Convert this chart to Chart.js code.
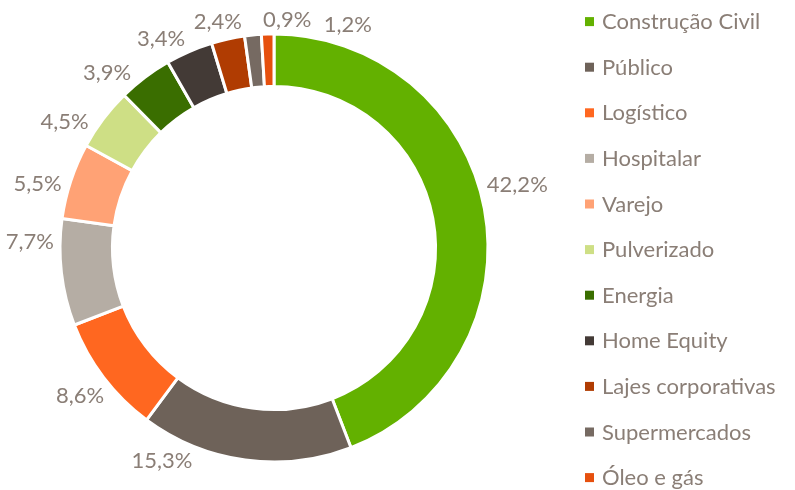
<!DOCTYPE html>
<html>
<head>
<meta charset="utf-8">
<script src="https://cdn.jsdelivr.net/npm/chart.js@4/dist/chart.umd.min.js"></script>
<style>
  html, body { margin: 0; padding: 0; background: #fff; }
  #wrap { width: 795px; height: 490px; position: relative; }
</style>
</head>
<body>
<div id="wrap"><canvas id="chart"></canvas></div>
<script>
const categories = ['Construção Civil', 'Público', 'Logístico', 'Hospitalar', 'Varejo', 'Pulverizado',
  'Energia', 'Home Equity', 'Lajes corporativas', 'Supermercados', 'Óleo e gás'];
const shares = [42.2, 15.3, 8.6, 7.7, 5.5, 4.5, 3.9, 3.4, 2.4, 1.2, 0.9];
const colors = ['#63B100', '#6E6259', '#FF6720', '#B5ADA4', '#FFA275', '#CEDF85',
  '#3A6E00', '#433A36', '#B03C02', '#766A62', '#E6500E'];

const textColor = '#8A7E76';
const fontFamily = 'Lato, "Noto Sans", sans-serif';

// label angle tweaks (degrees), mimicking where the original put them
const labelShift = [-4, 20, 0, 8, -3, -6, -6.5, -5, -1.5, 24, 5];

function fmt(v) {
  return v.toFixed(1).replace('.', ',') + '%';
}

const outsideLabels = {
  id: 'outsideLabels',
  afterDatasetsDraw(chart) {
    const ctx = chart.ctx;
    const meta = chart.getDatasetMeta(0);
    ctx.save();
    ctx.font = '22px ' + fontFamily;
    ctx.fillStyle = textColor;
    ctx.textAlign = 'center';
    ctx.textBaseline = 'middle';
    meta.data.forEach((arc, i) => {
      const p = arc.getProps(['x', 'y', 'startAngle', 'endAngle', 'outerRadius'], true);
      const a = (p.startAngle + p.endAngle) / 2 + labelShift[i] * Math.PI / 180;
      const txt = fmt(shares[i]);
      const w = ctx.measureText(txt).width;
      const h = 15;
      const cx = Math.cos(a), cy = Math.sin(a);
      const r = p.outerRadius + 6 + Math.abs(cx) * w / 2 + Math.abs(cy) * h / 2;
      ctx.fillText(txt, p.x + cx * r, p.y + cy * r);
    });
    ctx.restore();
  }
};

const sideLegend = {
  id: 'sideLegend',
  afterDraw(chart) {
    const ctx = chart.ctx;
    ctx.save();
    ctx.font = '22px ' + fontFamily;
    ctx.textAlign = 'left';
    ctx.textBaseline = 'alphabetic';
    categories.forEach((name, i) => {
      const y = 21.6 + i * 45.6;
      ctx.fillStyle = colors[i];
      ctx.fillRect(585, y - 4.5, 9, 9);
      ctx.fillStyle = textColor;
      ctx.fillText(name, 602, y + 7.5);
    });
    ctx.restore();
  }
};

const ctx = document.getElementById('chart').getContext('2d');
const chart = new Chart(ctx, {
  type: 'doughnut',
  data: {
    labels: categories,
    datasets: [{
      data: shares,
      backgroundColor: colors,
      borderColor: '#ffffff',
      borderWidth: 3,
      hoverBorderWidth: 3,
      hoverOffset: 0
    }]
  },
  options: {
    responsive: true,
    maintainAspectRatio: false,
    animation: false,
    cutout: '75.5%',
    layout: { padding: { left: 58.5, top: 32.5, right: 305.5, bottom: 26.5 } },
    plugins: {
      legend: { display: false },
      tooltip: { enabled: false }
    }
  },
  plugins: [outsideLabels, sideLegend]
});
</script>
</body>
</html>
